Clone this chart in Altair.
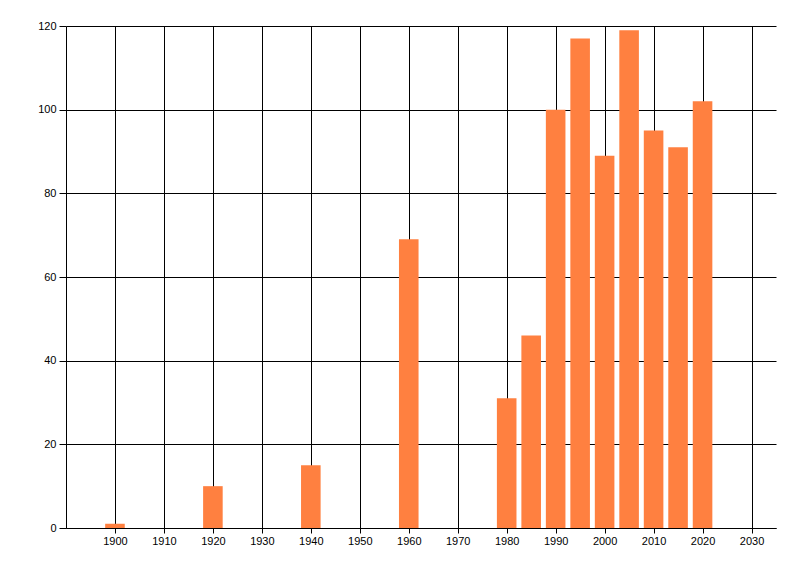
import altair as alt
import pandas as pd

years = [1900, 1920, 1940, 1960, 1980, 1985, 1990, 1995, 2000, 2005, 2010, 2015, 2020]
values = [1, 10, 15, 69, 31, 46, 100, 117, 89, 119, 95, 91, 102]
x_ticks = list(range(1900, 2031, 10))
y_ticks = list(range(0, 121, 20))

df = pd.DataFrame({"year": years, "value": values})

chart = alt.Chart(df).transform_calculate(
    x0="datum.year - 2", x1="datum.year + 2"
).mark_bar(color="#FF8040").encode(
    x=alt.X("x0:Q", scale=alt.Scale(domain=[1890, 2035], nice=False, zero=False),
            axis=alt.Axis(values=x_ticks, format="d", title=None, grid=True,
                          gridColor="black", gridOpacity=1, gridWidth=1,
                          domainColor="black", tickColor="black", tickSize=5,
                          labelFont="Liberation Sans", labelFontSize=11,
                          labelColor="#000000", labelPadding=2)),
    x2="x1:Q",
    y=alt.Y("value:Q", scale=alt.Scale(domain=[0, 120], nice=False, padding=0),
            axis=alt.Axis(values=y_ticks, title=None, grid=True,
                          gridColor="black", gridOpacity=1, gridWidth=1,
                          domainColor="black", tickColor="black", tickSize=7,
                          labelFont="Liberation Sans", labelFontSize=11,
                          labelColor="#000000", labelPadding=3)),
    y2=alt.datum(0),
).properties(
    width=710, height=502,
    autosize=alt.AutoSizeParams(type="none"),
    padding={"left": 58, "top": 18, "right": 10, "bottom": 40},
).configure_view(stroke=None)

chart.save("out.html", embed_options={"renderer": "svg", "actions": False})
